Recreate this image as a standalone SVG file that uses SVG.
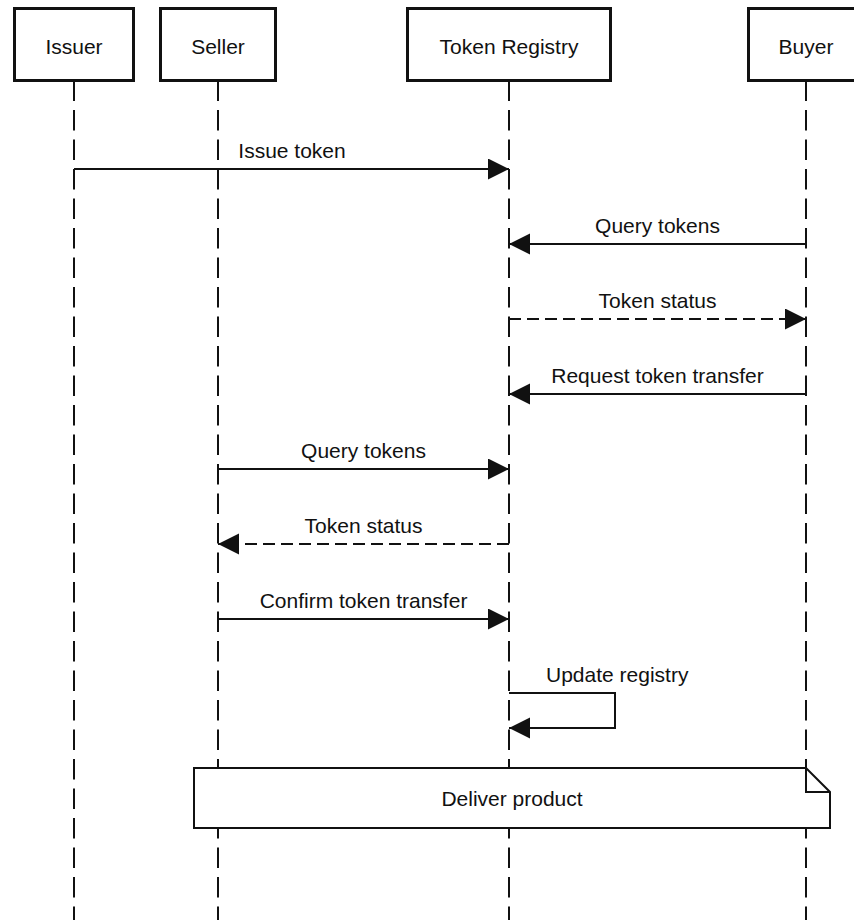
<svg xmlns="http://www.w3.org/2000/svg" width="854" height="920" viewBox="0 0 854 920">
<style>
text{font-family:"Liberation Sans",Arial,Helvetica,sans-serif;font-size:21px;fill:#111;}
.box{fill:#fff;stroke:#111;stroke-width:3;}
.life{stroke:#111;stroke-width:2;stroke-dasharray:20.5 9;fill:none;}
.msg{stroke:#111;stroke-width:2;fill:none;marker-end:url(#ah);}
.ret{stroke:#111;stroke-width:2;fill:none;stroke-dasharray:12 6;marker-end:url(#ah);}
.note{fill:#fff;stroke:#111;stroke-width:2;}
.c{text-anchor:middle;}
</style>
<defs>
<marker id="ah" markerWidth="22" markerHeight="22" refX="21" refY="10.5" orient="auto" markerUnits="userSpaceOnUse">
<path d="M0,0 L21,10.5 L0,21 Z" fill="#111"/>
</marker>
</defs>
<rect width="854" height="920" fill="#fff"/>
<g id="lifelines">
<line class="life" x1="74" y1="80.5" x2="74" y2="920"/>
<line class="life" x1="218" y1="80.5" x2="218" y2="920"/>
<line class="life" x1="509" y1="80.5" x2="509" y2="920"/>
<line class="life" x1="806" y1="80.5" x2="806" y2="920"/>
</g>
<g id="issuer"><rect class="box" x="14.5" y="8.5" width="119" height="72"/><text class="c" x="74" y="54">Issuer</text></g>
<g id="seller"><rect class="box" x="160.5" y="8.5" width="115" height="72"/><text class="c" x="218" y="54">Seller</text></g>
<g id="registry"><rect class="box" x="407.5" y="8.5" width="203" height="72"/><text class="c" x="509" y="54">Token Registry</text></g>
<g id="buyer"><rect class="box" x="748.5" y="8.5" width="118" height="72"/><text class="c" x="806" y="54">Buyer</text></g>
<g id="connectors">
<line class="msg" x1="74" y1="169" x2="509" y2="169"/>
<text class="c" x="292" y="158">Issue token</text>
<line class="msg" x1="806" y1="244" x2="509" y2="244"/>
<text class="c" x="657.5" y="233">Query tokens</text>
<line class="ret" x1="509" y1="319" x2="806" y2="319"/>
<text class="c" x="657.5" y="308">Token status</text>
<line class="msg" x1="806" y1="394" x2="509" y2="394"/>
<text class="c" x="657.5" y="383">Request token transfer</text>
<line class="msg" x1="218" y1="469" x2="509" y2="469"/>
<text class="c" x="363.5" y="458">Query tokens</text>
<line class="ret" x1="509" y1="544" x2="218" y2="544"/>
<text class="c" x="363.5" y="533">Token status</text>
<line class="msg" x1="218" y1="619" x2="509" y2="619"/>
<text class="c" x="363.5" y="608">Confirm token transfer</text>
<path class="msg" d="M509,693 H615 V728 H509"/>
<text x="546" y="682">Update registry</text>
</g>
<g id="note">
<path class="note" d="M194,768 H806 L830,792 V828 H194 Z"/>
<path d="M806,768 V792 H830" fill="none" stroke="#111" stroke-width="2"/>
<text class="c" x="512" y="806">Deliver product</text>
</g>
</svg>
